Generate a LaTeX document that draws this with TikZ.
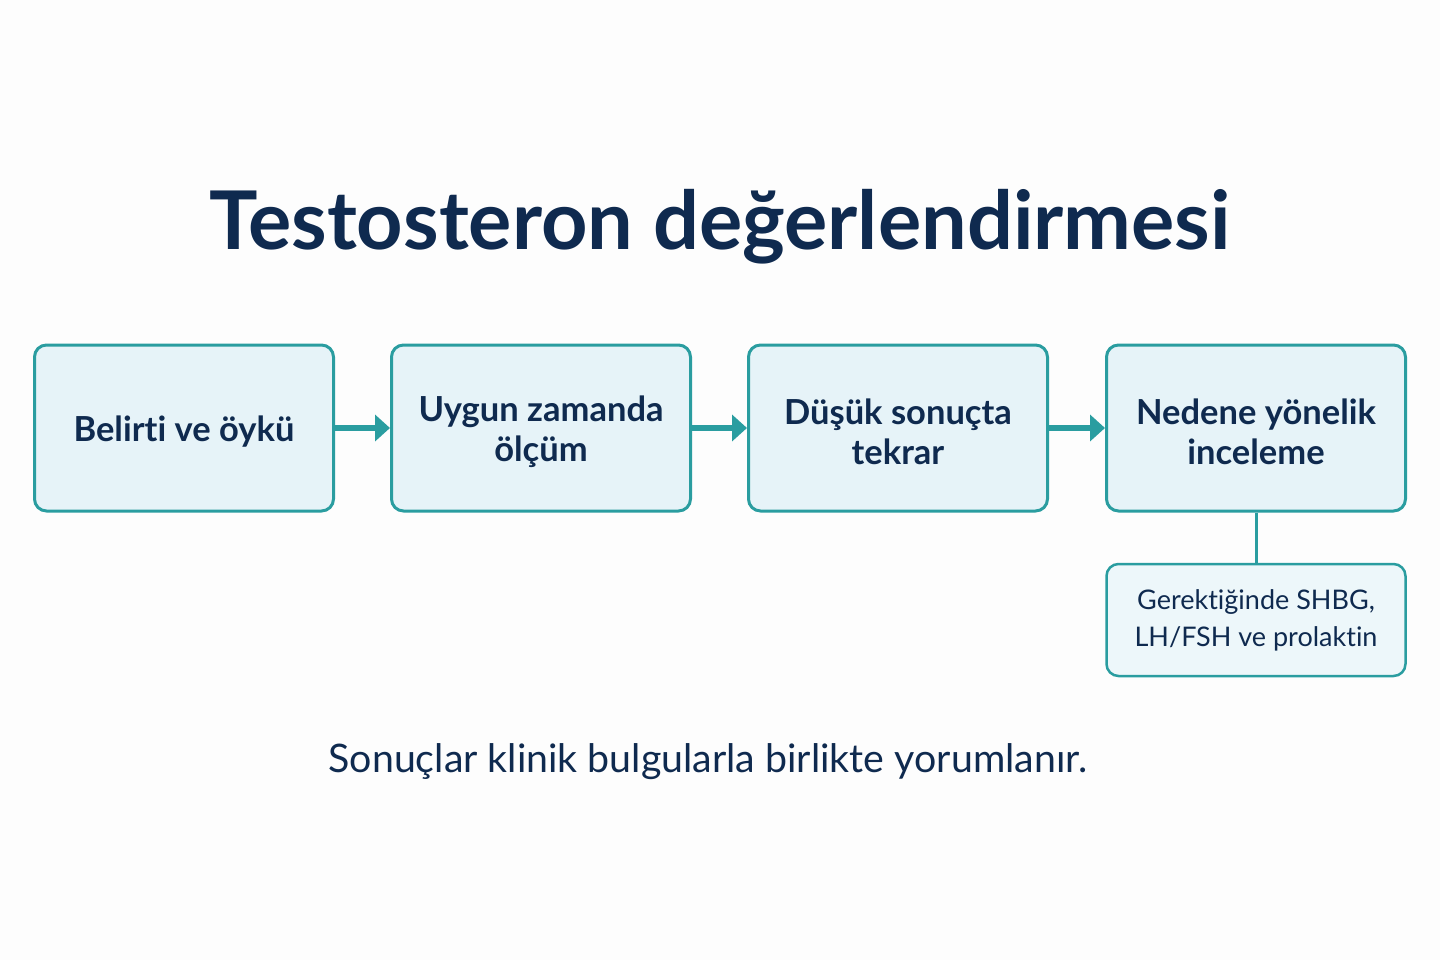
\documentclass[tikz,border=0pt]{standalone}
\usepackage{fontspec}
\setmainfont[Ligatures={NoCommon}]{Lato}
\usetikzlibrary{arrows.meta}
\definecolor{navy}{HTML}{0F2A4F}
\definecolor{teal}{HTML}{2A9DA0}
\definecolor{boxfill}{HTML}{E6F3F8}
\definecolor{bg}{HTML}{FDFDFD}
\tikzset{
  stepbox/.style={draw=teal, line width=3pt, fill=boxfill, rounded corners=12pt, minimum width=299pt, minimum height=166pt, inner sep=0pt},
  steptext/.style={align=center, text=navy, font=\fontsize{34.5}{40}\selectfont\bfseries, inner sep=0pt, yshift=-4pt},
  notebox/.style={draw=teal, line width=2.5pt, fill=boxfill!70!white, rounded corners=12pt, minimum width=299pt, minimum height=112pt, align=center, text=navy, font=\fontsize{27}{37}\selectfont, inner sep=0pt},
  flow/.style={draw=teal, line width=6pt, -{Triangle[length=15pt,width=26pt]}},
  link/.style={draw=teal, line width=3pt}
}
\begin{document}
\begin{tikzpicture}[x=1pt,y=-1pt]
\fill[bg] (0,0) rectangle (1440,960);
\useasboundingbox (0,0) rectangle (1440,960);
\node[text=navy, font=\fontsize{81}{90}\selectfont\bfseries] (title) at (720,227) {Testosteron değerlendirmesi};
\node[stepbox] (b1) at (184,428) {};
\node[stepbox] (b2) at (541,428) {};
\node[stepbox] (b3) at (898,428) {};
\node[stepbox] (b4) at (1256,428) {};
\node[steptext] (t1) at (b1.center) {Belirti ve öykü};
\node[steptext] (t2) at (b2.center) {Uygun zamanda\\ölçüm};
\node[steptext] (t3) at (b3.center) {Düşük sonuçta\\tekrar};
\node[steptext] (t4) at (b4.center) {Nedene yönelik\\inceleme};
\node[notebox] (n1) at (1256,620) {Gerektiğinde SHBG,\\LH/FSH ve prolaktin};
\draw[flow] (b1.east) -- (b2.west);
\draw[flow] (b2.east) -- (b3.west);
\draw[flow] (b3.east) -- (b4.west);
\draw[link] (b4.south) -- (n1.north);
\node[text=navy, font=\fontsize{39.3}{46}\selectfont] (foot) at (708,762) {Sonuçlar klinik bulgularla birlikte yorumlanır.};
\end{tikzpicture}
\end{document}
